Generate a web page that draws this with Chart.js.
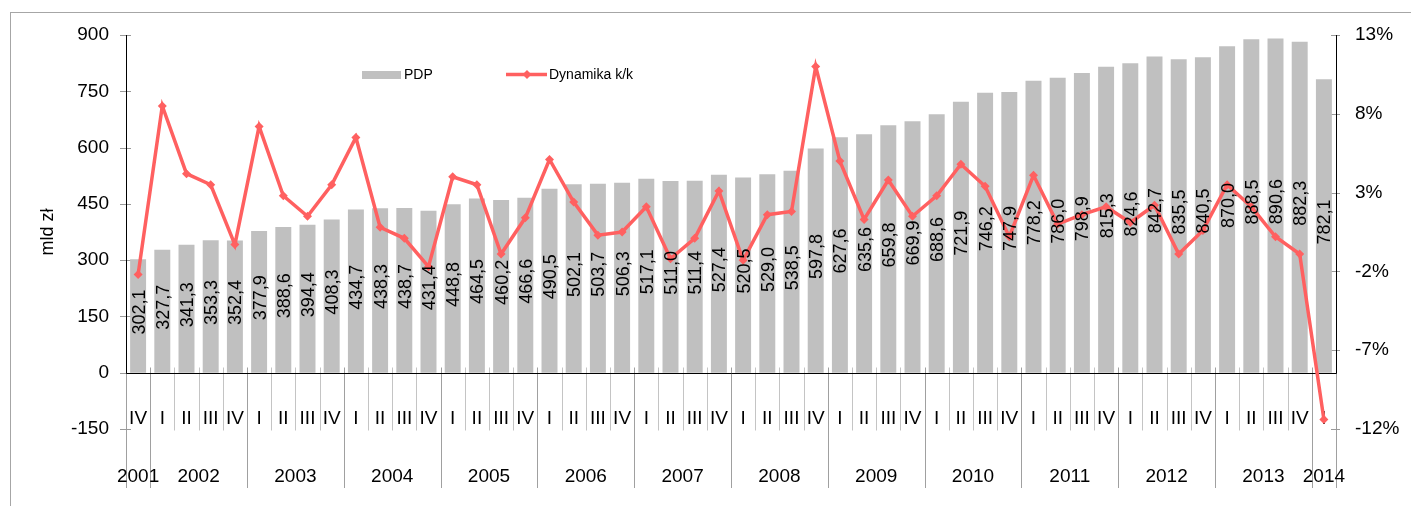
<!DOCTYPE html>
<html lang="pl">
<head>
<meta charset="utf-8">
<title>PDP i dynamika k/k</title>
<script src="https://cdn.jsdelivr.net/npm/chart.js@4.4.1/dist/chart.umd.min.js"></script>
<style>
  html, body { margin: 0; padding: 0; background: #fff; }
  #wrap { position: relative; width: 1411px; height: 506px; }
</style>
</head>
<body>
<div id="wrap"><canvas id="pdpChart"></canvas></div>
<script>
// Quarters (2001 IV - 2014 I)
const quarterLabels = [
  "IV",
  "I", "II", "III", "IV",
  "I", "II", "III", "IV",
  "I", "II", "III", "IV",
  "I", "II", "III", "IV",
  "I", "II", "III", "IV",
  "I", "II", "III", "IV",
  "I", "II", "III", "IV",
  "I", "II", "III", "IV",
  "I", "II", "III", "IV",
  "I", "II", "III", "IV",
  "I", "II", "III", "IV",
  "I", "II", "III", "IV",
  "I",
];
const yearLabels = ["2001", "2002", "2003", "2004", "2005", "2006", "2007",
  "2008", "2009", "2010", "2011", "2012", "2013", "2014"];

// PDP, mld zl
const pdpValues = [
  302.1, 327.7, 341.3, 353.3, 352.4, 377.9, 388.6, 394.4, 408.3, 434.7,
  438.3, 438.7, 431.4, 448.8, 464.5, 460.2, 466.6, 490.5, 502.1, 503.7,
  506.3, 517.1, 511.0, 511.4, 527.4, 520.5, 529.0, 538.5, 597.8, 627.6,
  635.6, 659.8, 669.9, 688.6, 721.9, 746.2, 747.9, 778.2, 786.0, 798.9,
  815.3, 824.6, 842.7, 835.5, 840.5, 870.0, 888.5, 890.6, 882.3, 782.1,
];
// Dynamika k/k, %
const dynamikaValues = [
  -2.2, 8.5, 4.2, 3.5, -0.3, 7.2, 2.8, 1.5, 3.5, 6.5,
  0.8, 0.1, -1.7, 4.0, 3.5, -0.9, 1.4, 5.1, 2.4, 0.3,
  0.5, 2.1, -1.2, 0.1, 3.1, -1.3, 1.6, 1.8, 11.0, 5.0,
  1.3, 3.8, 1.5, 2.8, 4.8, 3.4, 0.2, 4.1, 1.0, 1.6,
  2.1, 1.1, 2.2, -0.9, 0.6, 3.5, 2.1, 0.2, -0.9, -11.4,
];

const leftTicks = [-150, 0, 150, 300, 450, 600, 750, 900];
const rightTicks = [-12, -7, -2, 3, 8, 13];

const FONT = "'Liberation Sans', Arial, sans-serif";
const RED = "#ff6060";
const GREY_BAR = "#c0c0c0";

Chart.defaults.font.family = FONT;
Chart.defaults.color = "#000";

// first and last quarter index of each year
function yearSpans() {
  const starts = [0];
  quarterLabels.forEach((q, i) => {
    if (q === "I" && i > 0) starts.push(i);
  });
  return starts.map((s, i) => {
    const end = i + 1 < starts.length ? starts[i + 1] - 1 : quarterLabels.length - 1;
    return [s, end];
  });
}

function fmt(v) {
  return v.toFixed(1).replace(".", ",");
}

// Axis lines, separators, category labels, bar labels and legend
const framePlugin = {
  id: "frame",
  beforeDraw(chart) {
    const ctx = chart.ctx;
    ctx.save();
    ctx.strokeStyle = "#a6a6a6";
    ctx.lineWidth = 1;
    ctx.strokeRect(10.5, 12.5, 1450, 550);
    ctx.restore();
  },
  beforeDatasetsDraw(chart) {
    const ctx = chart.ctx;
    const x = chart.scales.x;
    const y = chart.scales.y;
    const y2 = chart.scales.y2;
    const zeroY = Math.round(y.getPixelForValue(0)) + 0.5;
    const lowY = y.getPixelForValue(-150);
    const n = quarterLabels.length;
    const slot = x.width / n;

    ctx.save();
    ctx.lineWidth = 1;

    // quarter / year separators
    for (let k = 0; k <= n; k++) {
      const px = Math.round(x.left + k * slot) + 0.5;
      const isYear = k === 0 || k === n || quarterLabels[k] === "I";
      ctx.strokeStyle = isYear ? "#a0a0a0" : "#c4c4c4";
      ctx.beginPath();
      ctx.moveTo(px, zeroY - 6);
      ctx.lineTo(px, isYear ? 488 : lowY + 1.5);
      ctx.stroke();
    }

    // value axis ticks
    ctx.strokeStyle = "#9a9a9a";
    leftTicks.forEach((v) => {
      const py = Math.round(y.getPixelForValue(v)) + 0.5;
      ctx.beginPath();
      ctx.moveTo(x.left - 6, py);
      ctx.lineTo(x.left + 5, py);
      ctx.stroke();
    });
    rightTicks.forEach((v) => {
      const py = Math.round(y2.getPixelForValue(v)) + 0.5;
      ctx.beginPath();
      ctx.moveTo(x.right - 5, py);
      ctx.lineTo(x.right + 4, py);
      ctx.stroke();
    });

    // black axis lines (down to zero)
    ctx.strokeStyle = "#000";
    const lx = Math.round(x.left) + 0.5;
    const rx = Math.round(x.right) + 0.5;
    ctx.beginPath();
    ctx.moveTo(lx, y.top);
    ctx.lineTo(lx, zeroY);
    ctx.lineTo(rx, zeroY);
    ctx.moveTo(rx, y.top);
    ctx.lineTo(rx, zeroY);
    ctx.stroke();

    // quarter and year labels
    ctx.fillStyle = "#000";
    ctx.font = "19px " + FONT;
    ctx.textAlign = "center";
    ctx.textBaseline = "middle";
    quarterLabels.forEach((q, i) => {
      ctx.fillText(q, x.getPixelForValue(i), 419);
    });
    yearSpans().forEach(([s, e], i) => {
      const cx = (x.getPixelForValue(s) + x.getPixelForValue(e)) / 2;
      ctx.fillText(yearLabels[i], cx, 477);
    });
    ctx.restore();
  },
  afterDatasetsDraw(chart) {
    const ctx = chart.ctx;
    const meta = chart.getDatasetMeta(1);
    ctx.save();
    ctx.fillStyle = "#000";
    ctx.font = "18px " + FONT;
    ctx.textAlign = "center";
    ctx.textBaseline = "middle";
    meta.data.forEach((bar, i) => {
      const cy = (bar.y + bar.base) / 2 - 4;
      ctx.save();
      ctx.translate(bar.x + 1.5, cy);
      ctx.rotate(-Math.PI / 2);
      ctx.fillText(fmt(pdpValues[i]), 0, 0);
      ctx.restore();
    });

    // legend
    ctx.font = "14px " + FONT;
    ctx.textAlign = "left";
    ctx.fillStyle = GREY_BAR;
    ctx.fillRect(362, 71, 39, 8);
    ctx.fillStyle = "#000";
    ctx.fillText("PDP", 404, 75);

    ctx.strokeStyle = RED;
    ctx.lineWidth = 3.5;
    ctx.beginPath();
    ctx.moveTo(506, 74.5);
    ctx.lineTo(547, 74.5);
    ctx.stroke();
    ctx.fillStyle = RED;
    ctx.beginPath();
    ctx.moveTo(527, 70);
    ctx.lineTo(531.5, 74.5);
    ctx.lineTo(527, 79);
    ctx.lineTo(522.5, 74.5);
    ctx.closePath();
    ctx.fill();
    ctx.fillStyle = "#000";
    ctx.fillText("Dynamika k/k", 549, 75);
    ctx.restore();
  },
};

const ctx = document.getElementById("pdpChart").getContext("2d");
new Chart(ctx, {
  type: "bar",
  data: {
    labels: quarterLabels,
    datasets: [
      {
        type: "line",
        label: "Dynamika k/k",
        data: dynamikaValues,
        yAxisID: "y2",
        order: 0,
        borderColor: RED,
        backgroundColor: RED,
        borderWidth: 3.5,
        tension: 0,
        pointStyle: "rectRot",
        pointRadius: 4.5,
        pointBorderWidth: 0,
        pointBackgroundColor: RED,
      },
      {
        type: "bar",
        label: "PDP",
        data: pdpValues,
        yAxisID: "y",
        order: 1,
        backgroundColor: GREY_BAR,
        borderWidth: 0,
        barPercentage: 0.66,
        categoryPercentage: 1,
      },
    ],
  },
  options: {
    responsive: true,
    maintainAspectRatio: false,
    animation: false,
    layout: { padding: { top: 35, left: 0, right: 0, bottom: 0 } },
    plugins: {
      legend: { display: false },
      tooltip: { enabled: false },
    },
    scales: {
      x: {
        type: "category",
        position: "bottom",
        offset: true,
        grid: { display: false, drawTicks: false },
        border: { display: false },
        ticks: { display: false },
        afterFit: (s) => { s.height = 77; },
      },
      y: {
        position: "left",
        min: leftTicks[0],
        max: leftTicks[leftTicks.length - 1],
        grid: { display: false, drawTicks: false },
        border: { display: false },
        ticks: { stepSize: 150, padding: 17, font: { size: 19 } },
        title: {
          display: true,
          text: "mld zł",
          font: { size: 18 },
          padding: { top: 37, bottom: 0 },
        },
        afterFit: (s) => { s.width = 126; },
      },
      y2: {
        position: "right",
        min: rightTicks[0],
        max: rightTicks[rightTicks.length - 1],
        grid: { display: false, drawTicks: false },
        border: { display: false },
        ticks: {
          stepSize: 5,
          padding: 19,
          font: { size: 19 },
          callback: (v) => v + "%",
        },
        afterFit: (s) => { s.width = 75; },
      },
    },
  },
  plugins: [framePlugin],
});
</script>
</body>
</html>
